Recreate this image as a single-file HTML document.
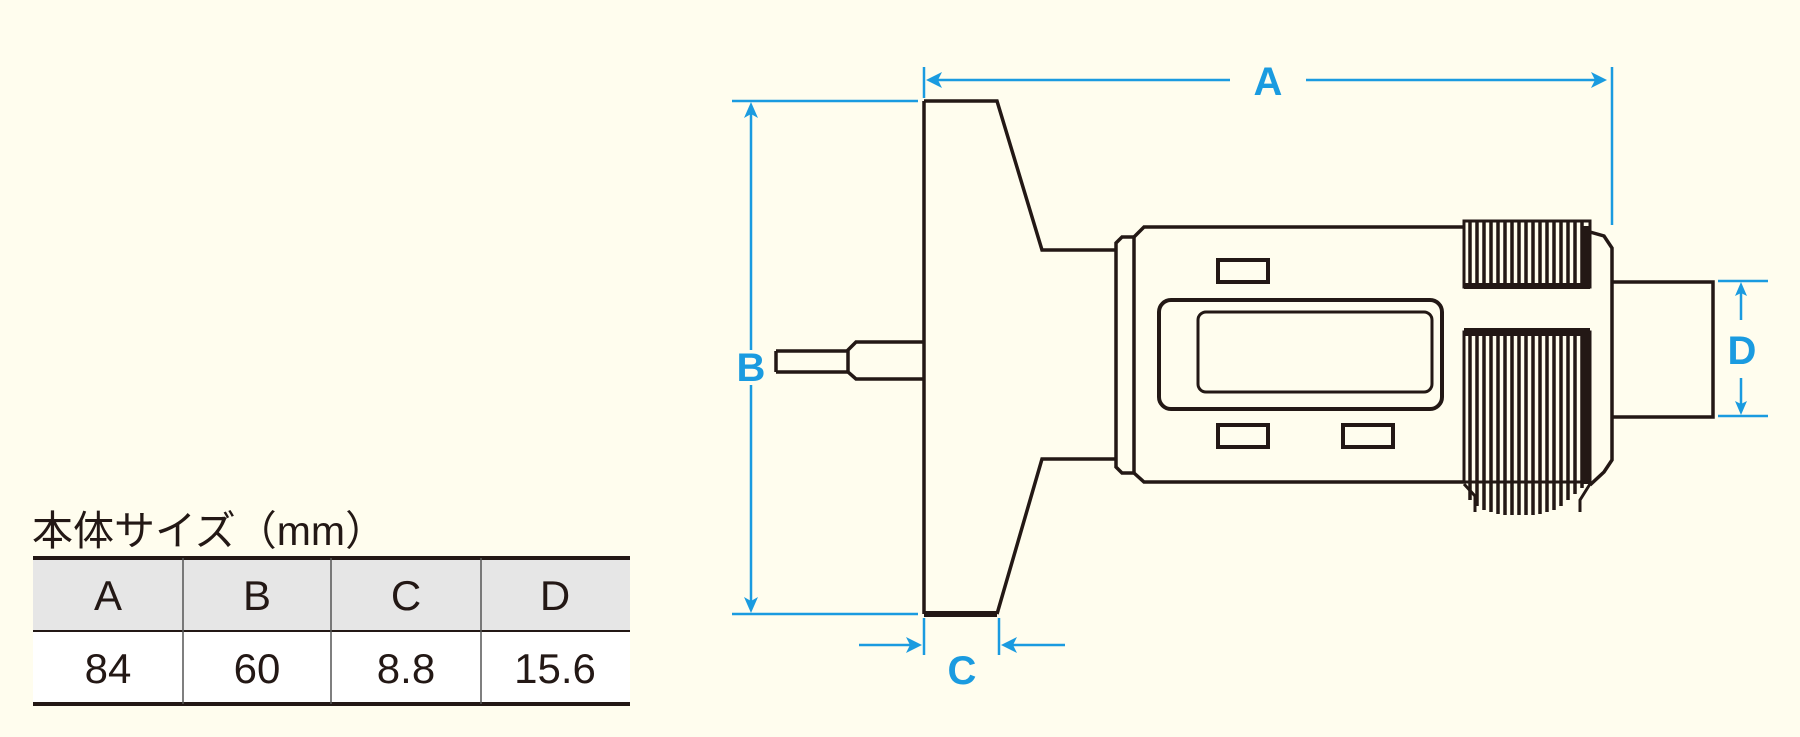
<!DOCTYPE html>
<html><head><meta charset="utf-8"><style>
html,body{margin:0;padding:0;background:#fffdee;}
svg{display:block}
</style></head><body>
<svg width="1800" height="737" viewBox="0 0 1800 737" xmlns="http://www.w3.org/2000/svg">
<rect width="1800" height="737" fill="#fffdee"/>
<!-- table -->
<text x="32" y="545" font-family="'Liberation Sans','Noto Sans CJK JP',sans-serif" font-size="41" fill="#231815">本体サイズ（mm）</text>
<rect x="33" y="557" width="597" height="74" fill="#e6e6e6"/>
<rect x="33" y="631" width="597" height="73" fill="#ffffff"/>
<line x1="33" y1="558" x2="630" y2="558" stroke="#231815" stroke-width="4"/>
<line x1="33" y1="631" x2="630" y2="631" stroke="#231815" stroke-width="2"/>
<line x1="33" y1="704" x2="630" y2="704" stroke="#231815" stroke-width="4"/>
<g stroke="#555" stroke-width="1.5"><line x1="183" y1="558" x2="183" y2="704"/><line x1="331" y1="558" x2="331" y2="704"/><line x1="481" y1="558" x2="481" y2="704"/></g>
<g font-family="'Liberation Sans',sans-serif" font-size="42" fill="#231815" text-anchor="middle">
<text x="108" y="610">A</text><text x="257" y="610">B</text><text x="406" y="610">C</text><text x="555" y="610">D</text>
<text x="108" y="683">84</text><text x="257" y="683">60</text><text x="406" y="683">8.8</text><text x="555" y="683">15.6</text>
</g>
<!-- drawing -->
<g fill="none" stroke="#231815" stroke-width="3.5">
<path d="M924,101 V614"/>
<path d="M924,101 H997 L1042,250 H1116"/>
<path d="M1116,459 H1042 L997,614"/>
<path d="M924,614 H997" stroke-width="6"/>
<path d="M924,342 H856 L848,350 V372 L856,379 H924" />
<path d="M776,351 H848 M776,372 H848 M776,351 V372"/>
<path d="M1116,243 L1122,237 H1134 V473 H1122 L1116,467 Z"/>
<path d="M1134,237 L1144,227 H1464 M1134,473 L1144,482 H1464"/>
<path d="M1590,232 L1604,236 L1612,248 V460 L1604,472 L1590,485"/>
<path d="M1612,282 H1713 V417 H1612"/>
<rect x="1159" y="300" width="283" height="109" rx="12" stroke-width="4"/>
<rect x="1198" y="312" width="234" height="80" rx="8" stroke-width="3"/>
<rect x="1218" y="260" width="50" height="22" stroke-width="4"/>
<rect x="1218" y="425" width="50" height="22" stroke-width="4"/>
<rect x="1343" y="425" width="50" height="22" stroke-width="4"/>
</g>
<!-- knurls -->
<g stroke="#231815" stroke-width="3">
<rect x="1464" y="221" width="126" height="66" fill="none"/>
<rect x="1464" y="332" width="126" height="150" fill="none"/>
<path d="M1464,484 L1475,496 V512 M1590,484 L1580,500 V512" fill="none"/>
</g>
<g stroke="#231815" stroke-width="3.5">
<path d="M1470,221V287M1477,221V287M1484,221V287M1491,221V287M1498,221V287M1505,221V287M1512,221V287M1519,221V287M1526,221V287M1533,221V287M1540,221V287M1547,221V287M1554,221V287M1561,221V287M1568,221V287M1575,221V287M1582,221V287"/>
<path d="M1470,332V500M1477,332V506M1484,332V510M1491,332V512M1498,332V514M1505,332V515M1512,332V515M1519,332V515M1526,332V515M1533,332V515M1540,332V514M1547,332V512M1554,332V510M1561,332V506M1568,332V500M1575,332V494M1582,332V488"/>
</g>
<rect x="1582" y="226" width="9" height="62" fill="#231815"/>
<rect x="1582" y="334" width="9" height="150" fill="#231815"/>
<rect x="1464" y="328" width="126" height="8" fill="#231815"/>
<rect x="1464" y="283" width="126" height="6" fill="#231815"/>
<!-- dimensions -->
<g stroke="#1a9be0" stroke-width="2.5" fill="none">
<path d="M924,67 V98 M1612,67 V225"/>
<path d="M930,80 H1230 M1306,80 H1602"/>
<path d="M732,101 H918 M732,614 H918"/>
<path d="M751,106 V350 M751,385 V609"/>
<path d="M1718,281 H1768 M1718,416 H1768"/>
<path d="M1741,286 V320 M1741,378 V411"/>
<path d="M924,618 V655 M999,618 V655"/>
<path d="M859,645 H918 M1065,645 H1005"/>
</g>
<g fill="#1a9be0">
<path d="M926,80 L942,72 L938,80 L942,88 Z"/>
<path d="M1607,80 L1591,72 L1595,80 L1591,88 Z"/>
<path d="M751,102 L744,118 L751,114 L758,118 Z"/>
<path d="M751,613 L744,597 L751,601 L758,597 Z"/>
<path d="M1741,282 L1735,296 L1741,293 L1747,296 Z"/>
<path d="M1741,415 L1735,401 L1741,404 L1747,401 Z"/>
<path d="M922,645 L906,637 L910,645 L906,653 Z"/>
<path d="M1001,645 L1017,637 L1013,645 L1017,653 Z"/>
</g>
<g font-family="'Liberation Sans',sans-serif" font-weight="bold" font-size="40" fill="#1a9be0" text-anchor="middle">
<text x="1268" y="95">A</text>
<text x="751" y="381">B</text>
<text x="1742" y="364">D</text>
<text x="962" y="684">C</text>
</g>
</svg>
</body></html>
